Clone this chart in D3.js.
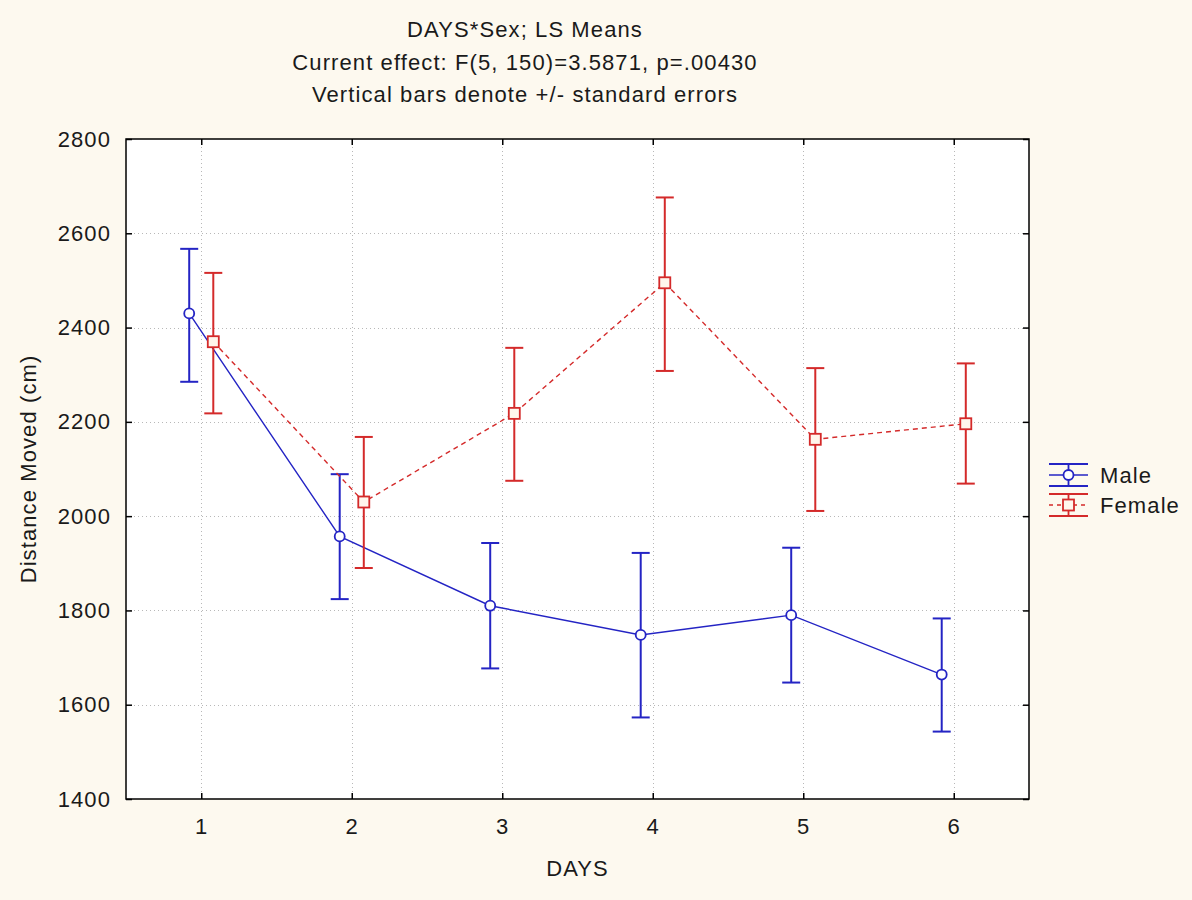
<!DOCTYPE html>
<html lang="en">
<head>
<meta charset="UTF-8">
<title>DAYS*Sex; LS Means</title>
<style>
  body { margin: 0; background: #fdf9ef; }
  text { font-family: "Liberation Sans", Arial, sans-serif; fill: #1a1a1a; letter-spacing: 1.1px; }
</style>
</head>
<body>
<script src="https://cdn.jsdelivr.net/npm/d3@7"></script>
<script>
  // data
  const days = [1, 2, 3, 4, 5, 6];
  const maleMean  = [2430, 1957, 1810, 1748, 1790, 1664];
  const maleUpper = [2567, 2089, 1943, 1922, 1933, 1783];
  const maleLower = [2285, 1824, 1677, 1573, 1647, 1543];
  const femaleMean  = [2370, 2030, 2218, 2495, 2163, 2196];
  const femaleUpper = [2516, 2168, 2357, 2676, 2314, 2324];
  const femaleLower = [2218, 1890, 2075, 2308, 2011, 2069];
  const yTicks = [1400, 1600, 1800, 2000, 2200, 2400, 2600, 2800];
  const titleLines = ["DAYS*Sex; LS Means",
                      "Current effect: F(5, 150)=3.5871, p=.00430",
                      "Vertical bars denote +/- standard errors"];

  const width = 1192, height = 900;
  const plotL = 126, plotR = 1029, plotT = 139, plotB = 799;

  const svg = d3.select("body").append("svg")
      .attr("width", width).attr("height", height);

  svg.append("rect").attr("width", width).attr("height", height).attr("fill", "#fdf9ef");

  const x = d3.scaleLinear().domain([0.5, 6.5]).range([plotL, plotR]);
  const y = d3.scaleLinear().domain([1400, 2800]).range([plotB, plotT]);

  svg.append("rect")
      .attr("x", plotL).attr("y", plotT)
      .attr("width", plotR - plotL).attr("height", plotB - plotT)
      .attr("fill", "#ffffff");

  // grid
  const grid = svg.append("g").attr("stroke", "#b8b8b8").attr("stroke-width", 1)
      .attr("stroke-dasharray", "1,3");
  grid.selectAll("line.h").data(yTicks.slice(1, -1)).enter().append("line")
      .attr("x1", plotL).attr("x2", plotR)
      .attr("y1", d => Math.round(y(d)) + 0.5).attr("y2", d => Math.round(y(d)) + 0.5);
  grid.selectAll("line.v").data(days).enter().append("line")
      .attr("y1", plotT).attr("y2", plotB)
      .attr("x1", d => Math.round(x(d)) + 0.5).attr("x2", d => Math.round(x(d)) + 0.5);

  // axes, ticks pointing inward on all four sides
  const fontSize = 22;
  const axL = svg.append("g").attr("transform", `translate(${plotL},0)`)
      .call(d3.axisLeft(y).tickValues(yTicks).tickFormat(d3.format("d"))
        .tickSizeInner(-6).tickSizeOuter(0).tickPadding(15));
  const axB = svg.append("g").attr("transform", `translate(0,${plotB})`)
      .call(d3.axisBottom(x).tickValues(days).tickFormat(d3.format("d"))
        .tickSizeInner(-6).tickSizeOuter(0).tickPadding(19));
  const axR = svg.append("g").attr("transform", `translate(${plotR},0)`)
      .call(d3.axisRight(y).tickValues(yTicks).tickSizeInner(-6).tickSizeOuter(0).tickFormat(""));
  const axT = svg.append("g").attr("transform", `translate(0,${plotT})`)
      .call(d3.axisTop(x).tickValues(days).tickSizeInner(-6).tickSizeOuter(0).tickFormat(""));
  [axL, axB, axR, axT].forEach(a => {
    a.select(".domain").remove();
    a.selectAll(".tick line").attr("stroke", "#000").attr("stroke-width", 1.5);
    a.selectAll("text").attr("font-size", fontSize).attr("fill", "#1a1a1a")
      .attr("font-family", "Liberation Sans, Arial, sans-serif");
  });

  svg.append("rect")
      .attr("x", plotL).attr("y", plotT)
      .attr("width", plotR - plotL).attr("height", plotB - plotT)
      .attr("fill", "none").attr("stroke", "#000").attr("stroke-width", 1.5);

  // titles
  svg.append("g").selectAll("text").data(titleLines).enter().append("text")
      .attr("x", 525).attr("y", (d, i) => 37 + i * 32.5)
      .attr("text-anchor", "middle").attr("font-size", fontSize)
      .text(d => d);

  svg.append("text").attr("x", (plotL + plotR) / 2).attr("y", 876)
      .attr("text-anchor", "middle").attr("font-size", fontSize).text("DAYS");
  svg.append("text")
      .attr("transform", `translate(36,${(plotT + plotB) / 2}) rotate(-90)`)
      .attr("text-anchor", "middle").attr("font-size", fontSize).text("Distance Moved (cm)");

  const series = [
    { name: "Male", mean: maleMean, upper: maleUpper, lower: maleLower,
      color: "#2424c4", dash: null, offset: -0.08, shape: "circle" },
    { name: "Female", mean: femaleMean, upper: femaleUpper, lower: femaleLower,
      color: "#d42a2a", dash: "5,4", offset: 0.08, shape: "square" }
  ];

  const capHalf = 9;

  series.forEach(s => {
    const pts = days.map((d, i) => ({ d: d, m: s.mean[i], hi: s.upper[i], lo: s.lower[i] }));
    const px = p => x(p.d + s.offset);

    svg.append("path").datum(pts)
        .attr("d", d3.line().x(px).y(p => y(p.m)))
        .attr("fill", "none").attr("stroke", s.color).attr("stroke-width", 1.4)
        .attr("stroke-dasharray", s.dash);

    const g = svg.append("g").attr("stroke", s.color).attr("stroke-width", 2);
    g.selectAll("line.bar").data(pts).enter().append("line")
        .attr("x1", px).attr("x2", px)
        .attr("y1", p => y(p.hi)).attr("y2", p => y(p.lo));
    g.selectAll("line.capHi").data(pts).enter().append("line")
        .attr("x1", p => px(p) - capHalf).attr("x2", p => px(p) + capHalf)
        .attr("y1", p => y(p.hi)).attr("y2", p => y(p.hi));
    g.selectAll("line.capLo").data(pts).enter().append("line")
        .attr("x1", p => px(p) - capHalf).attr("x2", p => px(p) + capHalf)
        .attr("y1", p => y(p.lo)).attr("y2", p => y(p.lo));

    if (s.shape === "circle") {
      g.selectAll("circle").data(pts).enter().append("circle")
          .attr("cx", px).attr("cy", p => y(p.m)).attr("r", 5)
          .attr("fill", "#fff").attr("stroke-width", 1.8);
    } else {
      g.selectAll("rect").data(pts).enter().append("rect")
          .attr("x", p => px(p) - 5.5).attr("y", p => y(p.m) - 5.5)
          .attr("width", 11).attr("height", 11)
          .attr("fill", "#fff6ec").attr("stroke-width", 1.8);
    }
  });

  // legend
  const leg = svg.append("g").attr("transform", "translate(1049,475)");
  series.forEach((s, i) => {
    const gy = i * 30;
    const e = leg.append("g").attr("transform", `translate(0,${gy})`)
        .attr("stroke", s.color).attr("stroke-width", 1.8);
    e.append("line").attr("x1", 0).attr("x2", 39).attr("y1", 0).attr("y2", 0)
        .attr("stroke-dasharray", s.dash ? "4,4" : null).attr("stroke-width", 1.3);
    e.append("line").attr("x1", 0).attr("x2", 39).attr("y1", -11).attr("y2", -11);
    e.append("line").attr("x1", 0).attr("x2", 39).attr("y1", 11).attr("y2", 11);
    e.append("line").attr("x1", 19.5).attr("x2", 19.5).attr("y1", -11).attr("y2", 11);
    if (s.shape === "circle") {
      e.append("circle").attr("cx", 19.5).attr("cy", 0).attr("r", 5).attr("fill", "#fff");
    } else {
      e.append("rect").attr("x", 14).attr("y", -5.5).attr("width", 11).attr("height", 11)
          .attr("fill", "#fff6ec");
    }
    leg.append("text").attr("x", 51).attr("y", gy + 8).attr("font-size", fontSize).text(s.name);
  });
</script>
</body>
</html>
